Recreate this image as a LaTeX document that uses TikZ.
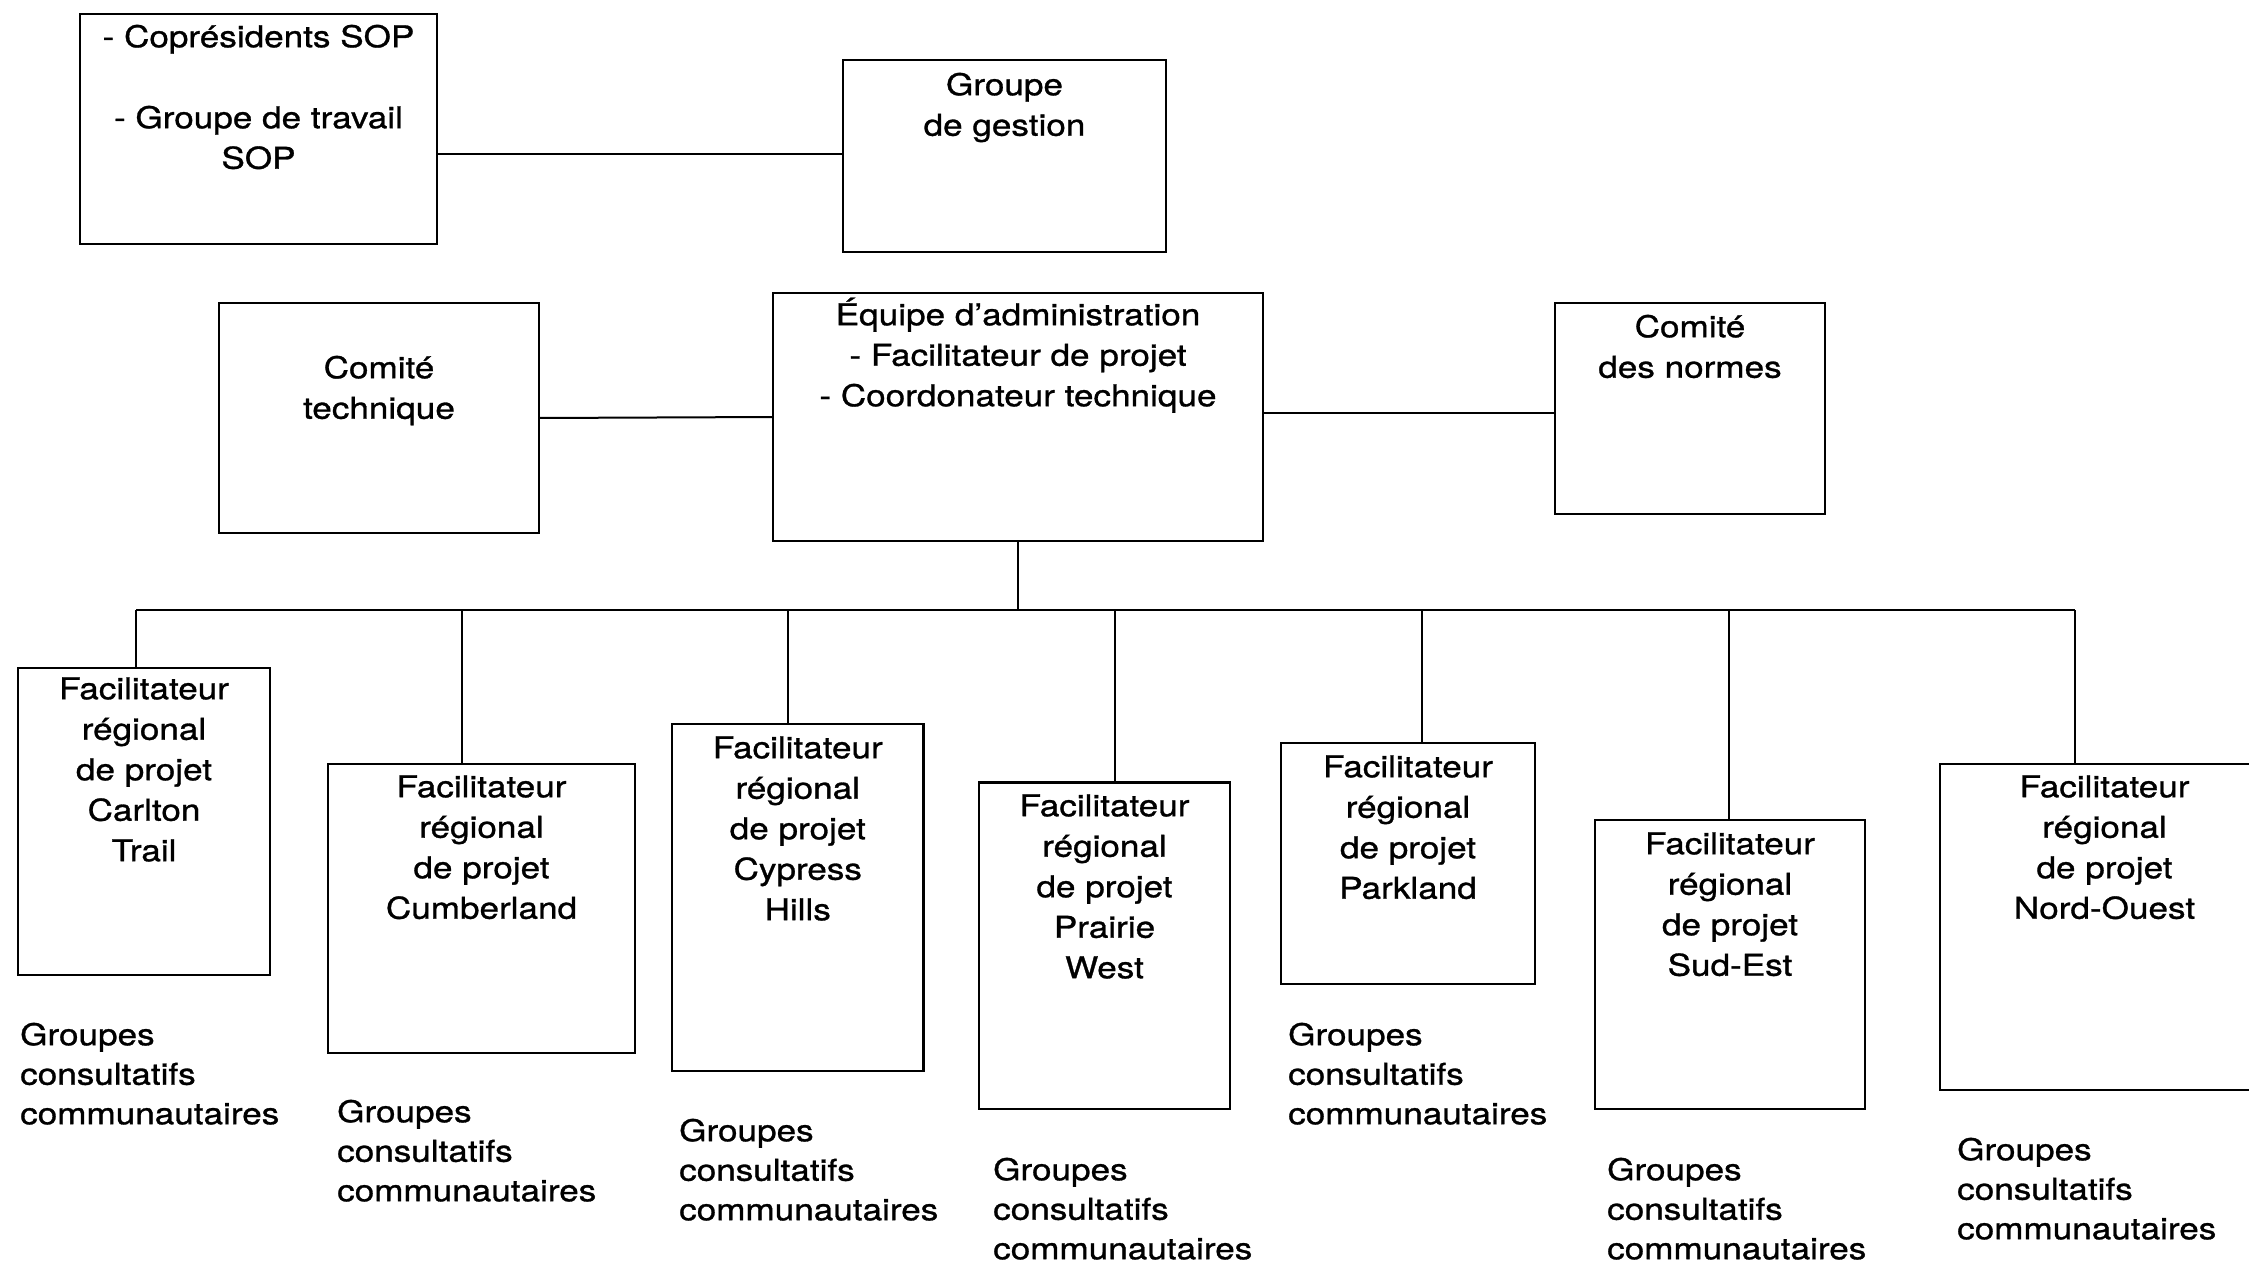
\documentclass[tikz,border=0pt]{standalone}
\usepackage{fontspec}
\setmainfont[FakeStretch=1.17,FakeBold=1]{TeX Gyre Heros}
\newcommand\lnstrut{\rule{0pt}{30pt}}
\begin{document}
\begin{tikzpicture}[x=1pt,y=-1pt,
  box/.style={draw=black, line width=2.4pt, rectangle, inner sep=0pt, outer sep=0pt},
  link/.style={draw=black, line width=2pt},
  txt/.style={anchor=north, align=center, inner sep=0pt, font=\fontsize{30}{40.5}\selectfont},
  lbl/.style={anchor=north west, align=left, inner sep=0pt, font=\fontsize{30}{39.5}\selectfont}]

\fill[white] (0,0) rectangle (2249,1263);
\useasboundingbox (0,0) rectangle (2249,1263);

% upper level
\node[box, minimum width=357pt, minimum height=230pt] (cop) at (258.5,129) {};
\node[box, minimum width=323pt, minimum height=192pt] (ges) at (1004.5,156) {};
\node[box, minimum width=320pt, minimum height=230pt] (tec) at (379,418) {};
\node[box, minimum width=490pt, minimum height=248pt] (eq)  at (1018,417) {};
\node[box, minimum width=270pt, minimum height=211pt] (nor) at (1690,408.5) {};

\node[txt] (copT) at (258.5,17) {\lnstrut- Coprésidents SOP\\[40.5pt]- Groupe de travail\\SOP};
\node[txt] (gesT) at (1004.5,65) {\lnstrut Groupe\\de gestion};
\node[txt] (tecT) at (379,348) {\lnstrut Comité\\technique};
\node[txt] (eqT)  at (1018,295) {\lnstrut Équipe d’administration\\- Facilitateur de projet\\- Coordonateur technique};
\node[txt] (norT) at (1690,307) {\lnstrut Comité\\des normes};

% regional facilitators
\node[box, minimum width=252pt,   minimum height=307pt]   (fA) at (144,821.5) {};
\node[box, minimum width=307pt,   minimum height=289pt]   (fB) at (481.5,908.5) {};
\node[box, minimum width=251.5pt, minimum height=347pt]   (fC) at (797.75,897.5) {};
\node[box, minimum width=251pt,   minimum height=326.5pt] (fD) at (1104.5,945.75) {};
\node[box, minimum width=254pt,   minimum height=241pt]   (fE) at (1408,863.5) {};
\node[box, minimum width=270pt,   minimum height=289pt]   (fF) at (1730,964.5) {};
\node[box, minimum width=329pt,   minimum height=326pt]   (fG) at (2104.5,927) {};

\node[txt] (fAT) at (144,669)    {\lnstrut Facilitateur\\régional\\de projet\\Carlton\\Trail};
\node[txt] (fBT) at (481.5,767)  {\lnstrut Facilitateur\\régional\\de projet\\Cumberland};
\node[txt] (fCT) at (797.75,728) {\lnstrut Facilitateur\\régional\\de projet\\Cypress\\Hills};
\node[txt] (fDT) at (1104.5,786) {\lnstrut Facilitateur\\régional\\de projet\\Prairie\\West};
\node[txt] (fET) at (1408,747)   {\lnstrut Facilitateur\\régional\\de projet\\Parkland};
\node[txt] (fFT) at (1730,824)   {\lnstrut Facilitateur\\régional\\de projet\\Sud-Est};
\node[txt] (fGT) at (2104.5,767) {\lnstrut Facilitateur\\régional\\de projet\\Nord-Ouest};

% community advisory groups
\node[lbl] (gA) at (20,1015)   {\lnstrut Groupes\\consultatifs\\communautaires};
\node[lbl] (gB) at (337,1092)  {\lnstrut Groupes\\consultatifs\\communautaires};
\node[lbl] (gC) at (679,1111)  {\lnstrut Groupes\\consultatifs\\communautaires};
\node[lbl] (gD) at (993,1150)  {\lnstrut Groupes\\consultatifs\\communautaires};
\node[lbl] (gE) at (1288,1015) {\lnstrut Groupes\\consultatifs\\communautaires};
\node[lbl] (gF) at (1607,1150) {\lnstrut Groupes\\consultatifs\\communautaires};
\node[lbl] (gG) at (1957,1130) {\lnstrut Groupes\\consultatifs\\communautaires};

% connectors of the upper level
\draw[link] (ges.west |- 0,154) -- (cop.east |- 0,154);
\draw[link] (tec.east) -- (eq.west);
\draw[link] (eq.east |- 0,413) -- (nor.west |- 0,413);

% distribution bus
\coordinate (jA) at (136,610);
\coordinate (jB) at (462,610);
\coordinate (jC) at (788,610);
\coordinate (jD) at (1115,610);
\coordinate (jE) at (1422,610);
\coordinate (jF) at (1729,610);
\coordinate (jG) at (2075,610);
\draw[link] (jA) -- (jG);
\draw[link] (eq.south) -- (eq.south |- jA);
\foreach \j/\b in {jA/fA,jB/fB,jC/fC,jD/fD,jE/fE,jF/fF,jG/fG}
  \draw[link] (\j) -- (\j |- \b.north);
\end{tikzpicture}
\end{document}
